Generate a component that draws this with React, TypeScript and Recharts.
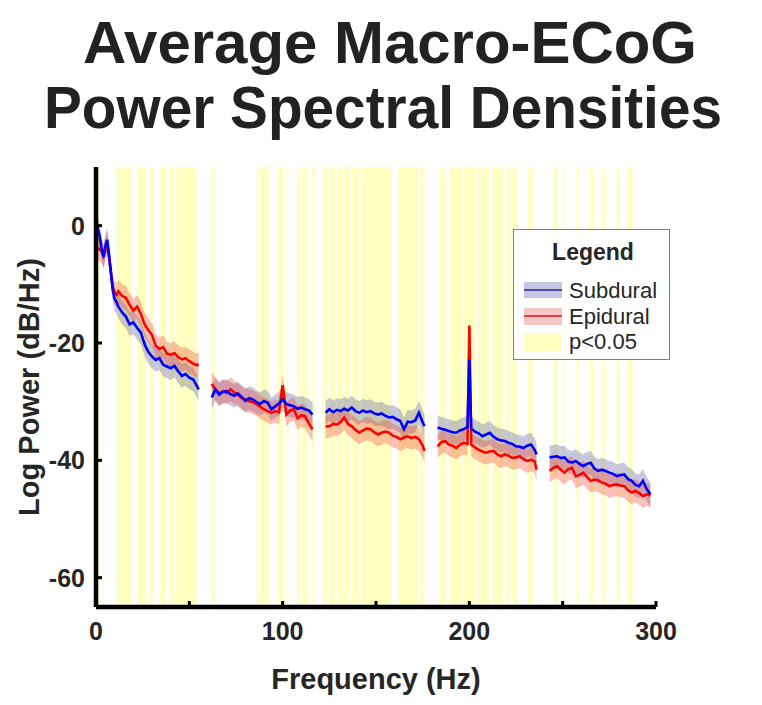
import React from 'react';
import { ComposedChart, Line, Area, XAxis, YAxis, ReferenceArea, Legend } from 'recharts';

const FONT = '"Liberation Sans", Arial, Helvetica, sans-serif';
const INK = '#262626';

// frequency bins (Hz); the null rows are the notches around the 60 Hz harmonics
const freqHz: number[] = [
  0, 1, 2, 3, 4, 5, 6, 7, 8, 9, 10, 11, 12, 14, 16, 18, 20, 22, 24, 26, 28, 30, 32, 34, 36, 38, 40, 42, 44, 46, 48, 50, 52, 54, 55,
  59,
  62, 64, 66, 68, 70, 72, 74, 76, 78, 80, 82, 84, 86, 88, 90, 92, 94, 96, 98, 100, 102, 104, 106, 108, 110, 112, 114, 116,
  119.5,
  123, 125, 127, 129, 131, 133, 135, 137, 139, 141, 143, 145, 147, 149, 151, 153, 155, 157, 159, 161, 163, 165, 167, 169, 171, 173, 175, 176,
  179.5,
  183, 185, 187, 189, 191, 193, 195, 197, 199, 200, 201, 203, 205, 207, 209, 211, 213, 215, 217, 219, 221, 223, 225, 227, 229, 231, 233, 235, 236,
  239.5,
  243, 245, 247, 249, 251, 253, 255, 257, 259, 261, 263, 265, 267, 269, 271, 273, 275, 277, 279, 281, 283, 285, 287, 289, 291, 293, 295, 297,
];

const subduralDb: (number | null)[] = [
  0.8, -0.5, -1.8, -4, -5.3, -3.5, -2.4, -5, -8, -11, -12.5, -13, -13.8, -14.8, -15.5, -16.8, -16.5, -17.4, -18.2, -20.2, -21.5, -22.3, -22.9, -22.6, -23.7, -24, -24.3, -23.9, -24.8, -25.6, -25.3, -25.9, -26.2, -27.3, -27.9,
  null,
  -29.3, -27.9, -28.8, -28.3, -28.2, -28.7, -29, -28.6, -29.2, -29.9, -29.4, -29.6, -30.1, -30.4, -29.9, -30.2, -31.3, -30.8, -30.3, -29.6, -30.4, -30.6, -30.8, -31.2, -31, -31.3, -31.5, -32.2,
  null,
  -31.9, -31.3, -31.8, -31.4, -31.6, -31.2, -31.5, -31, -31.6, -31.9, -31.5, -31.8, -31.6, -32, -32.2, -32, -32.4, -32.7, -32.6, -33, -33.3, -34.7, -33.4, -33.5, -33.2, -31.9, -33.5, -34.2,
  null,
  -34.4, -34.6, -34.8, -35, -35.2, -35.3, -34.9, -34.7, -34.3, -22.8, -34.6, -35.1, -35.4, -35.9, -35.6, -35.3, -36, -36.4, -36.6, -36.7, -37, -37.2, -37.6, -37.7, -37.9, -37.5, -37.3, -38.2, -39,
  null,
  -39.5, -39.4, -39.3, -39.6, -39.5, -40.2, -40.4, -40.1, -40.6, -41, -40.6, -40.4, -41.4, -41.8, -41.6, -41.8, -42.1, -42.3, -42.7, -42.5, -42.4, -43.2, -43.5, -44.2, -44.4, -43.5, -44.9, -45.8,
];

const epiduralDb: (number | null)[] = [
  -3.4, -3.8, -4.1, -4.3, -5.2, -4.2, -3, -5.5, -8, -10.5, -11.5, -11.8, -11.2, -12, -12.3, -13.5, -14.5, -13.8, -15, -16.8, -17.8, -18.6, -20.5, -21, -20.7, -21.8, -22, -21.7, -22.4, -22.8, -22.6, -23.1, -23.5, -23.8, -23.6,
  null,
  -27, -27.9, -28.6, -28.2, -28.5, -27.9, -28.4, -28.8, -29.4, -29.6, -29.9, -30.1, -30.4, -30.9, -31.3, -31.6, -31.9, -31.6, -31.8, -27.2, -32.2, -31.5, -31.3, -32.8, -32.3, -32.5, -33.7, -34.7,
  null,
  -34.2, -34.2, -33.8, -33.9, -33.5, -32.7, -33.8, -34.2, -34.8, -35.3, -34.9, -34.6, -34.7, -35.2, -35.6, -35.3, -35.1, -35.3, -35.8, -36, -36.4, -36.1, -35.9, -36.2, -36, -36.4, -37.5, -38.4,
  null,
  -37.6, -36.9, -36.7, -37.3, -37.5, -37.9, -37.3, -37, -37.2, -17, -37.3, -37.8, -38.2, -38.5, -38.7, -38.5, -38.4, -39, -39.3, -39, -39.2, -39.6, -39.5, -39.3, -39.8, -40.1, -39.9, -40.2, -41.6,
  null,
  -41.8, -41.3, -41, -41.6, -42.1, -41.5, -41.3, -42.7, -42.5, -42.1, -42.8, -43.5, -43.3, -43.4, -43.8, -44, -44.4, -44.2, -44.1, -44.3, -44.4, -45.1, -45.5, -45.2, -45.6, -46.1, -45.8, -46,
];

// half-width of the shaded error bands (dB)
const subduralSem = 2.0;
const epiduralSem = 2.0;

// frequency ranges with p<0.05 (Hz)
const sigRanges: [number, number][] = [
  [0.3, 2], [11, 13.4], [14, 19], [22, 27], [29, 30.5], [34, 37.5], [39, 42], [43, 54],
  [62, 63.5], [86, 87], [88, 91.5], [92, 93], [97.5, 100], [102, 103], [107.5, 109], [110, 113], [115.5, 117],
  [121.5, 124], [125, 128], [129, 132], [132.5, 136], [137, 141], [142.5, 158.5], [162, 172.5], [173.5, 176],
  [184, 187], [189.5, 196], [196.5, 203], [204.5, 206.5], [207, 211], [212.5, 218], [220, 222], [223, 226],
  [231.5, 234], [245, 247.5], [250, 251], [257.5, 259], [264.5, 267], [271, 272.5], [279, 280.5], [285, 287.5],
];

const xTicks = [0, 50, 100, 150, 200, 250, 300];
const yTicks = [-60, -40, -20, 0];

const chartData = freqHz.map((f, i) => {
  const s = subduralDb[i];
  const e = epiduralDb[i];
  return {
    f,
    sub: s,
    epi: e,
    subBand: s == null ? null : [s - subduralSem, s + subduralSem],
    epiBand: e == null ? null : [e - epiduralSem, e + epiduralSem],
  };
});

const XTick = (props: any) => {
  const { x, y, payload } = props;
  const v = payload.value;
  return (
    <g>
      <line x1={x} x2={x} y1={y} y2={y - 6} stroke="#000" strokeWidth={3} />
      {v % 100 === 0 && (
        <text x={x} y={y + 33} textAnchor="middle" fontFamily={FONT} fontWeight="bold" fontSize={25} fill={INK}>
          {v}
        </text>
      )}
    </g>
  );
};

const YTick = (props: any) => {
  const { x, y, payload } = props;
  return (
    <g>
      <line x1={x} x2={x + 6} y1={y} y2={y} stroke="#000" strokeWidth={3} />
      <text x={x - 11} y={y + 9} textAnchor="end" fontFamily={FONT} fontWeight="bold" fontSize={25} fill={INK}>
        {payload.value}
      </text>
    </g>
  );
};

const LegendBox = () => (
  <svg width={158} height={132}>
    <rect x={0.5} y={0.5} width={156} height={130} fill="#fff" stroke="#7f7f7f" strokeWidth={1} />
    <text x={80} y={31} textAnchor="middle" fontFamily={FONT} fontWeight="bold" fontSize={23} fill={INK}>
      Legend
    </text>
    <rect x={11} y={53} width={38} height={16} fill="#c6c6e4" />
    <line x1={11} x2={49} y1={61} y2={61} stroke="#23238f" strokeWidth={1.5} />
    <text x={56} y={69} fontFamily={FONT} fontSize={22} fill={INK}>Subdural</text>
    <rect x={11} y={79} width={38} height={17} fill="#f6c6c6" />
    <line x1={11} x2={49} y1={87} y2={87} stroke="#e31010" strokeWidth={1.5} />
    <text x={56} y={95} fontFamily={FONT} fontSize={22} fill={INK}>Epidural</text>
    <rect x={11} y={104} width={38} height={19} fill="#ffffbf" />
    <text x={56} y={120} fontFamily={FONT} fontSize={22} fill={INK}>p&lt;0.05</text>
  </svg>
);

export default function App() {
  return (
    <div style={{ position: 'absolute', left: 0, top: 0, width: 762, height: 705, background: '#fff' }}>
      <ComposedChart
        width={762}
        height={705}
        data={chartData}
        margin={{ top: 167, right: 106, bottom: 0, left: 0 }}
      >
        {sigRanges.map(([a, b], i) => (
          <ReferenceArea key={i} x1={a} x2={b} fill="#ffffbf" fillOpacity={1} stroke="none" />
        ))}
        <XAxis
          dataKey="f"
          type="number"
          domain={[0, 300]}
          ticks={xTicks}
          interval={0}
          height={98}
          tickSize={0}
          tickMargin={0}
          tickLine={false}
          axisLine={{ stroke: '#000', strokeWidth: 4.5 }}
          tick={<XTick />}
          allowDataOverflow
        />
        <YAxis
          type="number"
          domain={[-65, 10]}
          ticks={yTicks}
          interval={0}
          width={96}
          tickSize={0}
          tickMargin={0}
          tickLine={false}
          axisLine={{ stroke: '#000', strokeWidth: 4.5 }}
          tick={<YTick />}
          allowDataOverflow
        />
        <Area dataKey="subBand" stroke="none" fill="#4646a0" fillOpacity={0.3} isAnimationActive={false} activeDot={false} />
        <Area dataKey="epiBand" stroke="none" fill="#f04030" fillOpacity={0.33} isAnimationActive={false} activeDot={false} />
        <Line dataKey="epi" stroke="#ff0000" strokeWidth={2.6} dot={false} activeDot={false} isAnimationActive={false} />
        <Line dataKey="sub" stroke="#0000ff" strokeWidth={2.6} dot={false} activeDot={false} isAnimationActive={false} />
        <Legend
          layout="horizontal"
          verticalAlign="middle"
          align="center"
          content={() => <LegendBox />}
          wrapperStyle={{ left: 513, top: 229, width: 158, height: 132 }}
        />
      </ComposedChart>
      <svg width={762} height={705} style={{ position: 'absolute', left: 0, top: 0, pointerEvents: 'none' }}>
        <g fontFamily={FONT} fontWeight="bold" fill="#222">
          <text x={390} y={63} textAnchor="middle" fontSize={60} textLength={614} lengthAdjust="spacingAndGlyphs">
            Average Macro-ECoG
          </text>
          <text x={383} y={128} textAnchor="middle" fontSize={60} textLength={678} lengthAdjust="spacingAndGlyphs">
            Power Spectral Densities
          </text>
        </g>
        <g fontFamily={FONT} fontWeight="bold" fill={INK} fontSize={29}>
          <text x={376} y={689} textAnchor="middle">Frequency (Hz)</text>
          <text x={39} y={387} textAnchor="middle" transform="rotate(-90 39 387)">Log Power (dB/Hz)</text>
        </g>
      </svg>
    </div>
  );
}
